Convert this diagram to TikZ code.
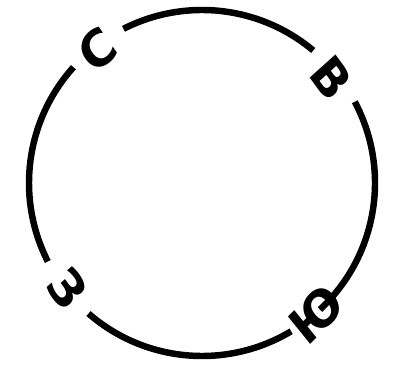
\documentclass[tikz,border=0pt]{standalone}
\usepackage{fontspec}
\setmainfont{DejaVu Sans}
\tikzset{
  ring/.style={draw=black, line width=4.6pt, line cap=butt},
  side/.style={font=\fontsize{36}{36}\selectfont\bfseries, inner sep=0pt, xscale=0.9},
}
\begin{document}
\begin{tikzpicture}[x=0.025cm, y=0.025cm]
  \useasboundingbox (0,0) rectangle (398,366);
  \coordinate (o) at (202,183);
  % ring pieces between the letters
  \foreach \a/\b in {50/117, 138/207, 229/301, 313/388} {
    \draw[ring] ([shift={(\a:173)}]o) arc[start angle=\a, end angle=\b, radius=173];
  }
  % sides of the horizon
  \node[side, rotate=38]  (north) at ([shift={(128:169)}]o) {С};
  \node[side, rotate=-51] (east)  at ([shift={(39:167)}]o)  {В};
  \node[side, rotate=-52] (west)  at ([shift={(218:171)}]o) {З};
  \node[side, rotate=42]  (south) at ([shift={(-49:174)}]o) {Ю};
\end{tikzpicture}
\end{document}
